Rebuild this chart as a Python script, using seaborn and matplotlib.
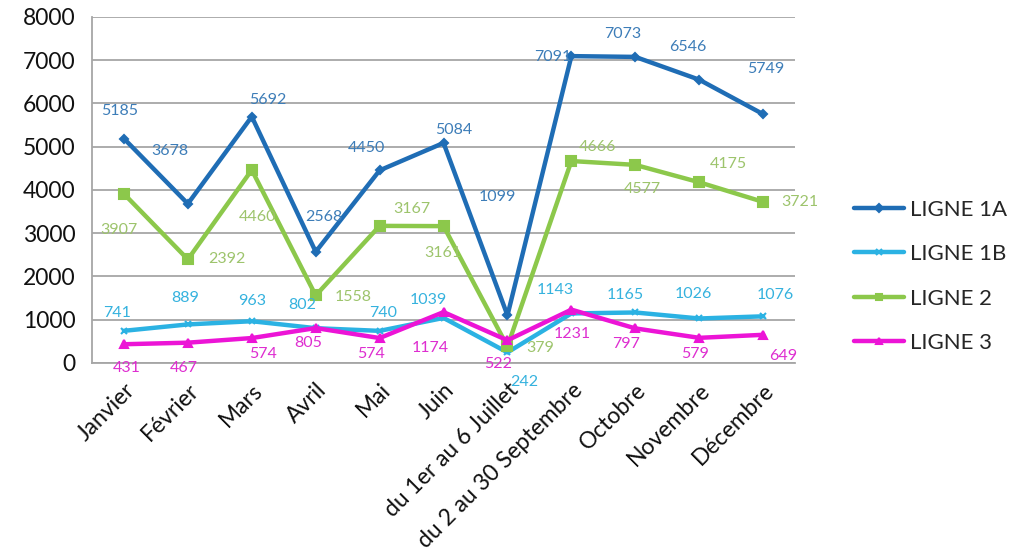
import numpy as np
import pandas as pd
import matplotlib.pyplot as plt
import seaborn as sns
from matplotlib.ticker import FixedLocator

# Data
mois = ["Janvier", "Février", "Mars", "Avril", "Mai", "Juin",
        "du 1er au 6 Juillet", "du 2 au 30 Septembre",
        "Octobre", "Novembre", "Décembre"]
ligne_1a = [5185, 3678, 5692, 2568, 4450, 5084, 1099, 7091, 7073, 6546, 5749]
ligne_1b = [741, 889, 963, 802, 740, 1039, 242, 1143, 1165, 1026, 1076]
ligne_2 = [3907, 2392, 4460, 1558, 3167, 3161, 379, 4666, 4577, 4175, 3721]
ligne_3 = [431, 467, 574, 805, 574, 1174, 522, 1231, 797, 579, 649]
noms = ["LIGNE 1A", "LIGNE 1B", "LIGNE 2", "LIGNE 3"]

# Styles
couleurs = {"LIGNE 1A": "#1F6DB5", "LIGNE 1B": "#2BB2E3",
            "LIGNE 2": "#8CC84B", "LIGNE 3": "#EC14D6"}
couleurs_txt = {"LIGNE 1A": "#3D7DB8", "LIGNE 1B": "#35B2DE",
                "LIGNE 2": "#9DC46C", "LIGNE 3": "#DE2ED0"}
marqueurs = {"LIGNE 1A": "D", "LIGNE 1B": "x", "LIGNE 2": "s", "LIGNE 3": "^"}
tailles = {"LIGNE 1A": 4, "LIGNE 1B": 5, "LIGNE 2": 6.5, "LIGNE 3": 6}

# label offsets (pixels) mimicking Excel's label placement
decalages = {
    "LIGNE 1A": [(-4, 28), (-18, 53), (16, 17), (8, 35), (-13, 22), (10, 13),
                 (-10, 118), (-19, -1), (-13, 23), (-11, 33), (3, 45)],
    "LIGNE 1B": [(-7, 18), (-3, 26), (0, 20), (-13, 23), (3, 18), (-15, 18),
                 (17, -30), (-16, 23), (-10, 17), (-6, 24), (12, 21)],
    "LIGNE 2": [(-5, -36), (39, 0), (6, -47), (37, -2), (32, 17), (-1, -27),
                (33, -2), (26, 14), (7, -24), (29, 18), (37, 0)],
    "LIGNE 3": [(3, -24), (-4, -25), (11, -16), (-8, -15), (-9, -16), (-13, -36),
                (-9, -24), (1, -24), (-9, -16), (-4, -16), (20, -21)],
}

df = pd.DataFrame({
    "Mois": mois * 4,
    "Valeur": ligne_1a + ligne_1b + ligne_2 + ligne_3,
    "Ligne": np.repeat(noms, len(mois)),
})

sns.set_style("white")
plt.rcParams["font.family"] = ["Lato", "DejaVu Sans"]

fig = plt.figure(figsize=(10.22, 5.6), dpi=100)
ax = fig.add_axes([0.090, 0.352, 0.688, 0.618])

for nom in noms:
    sous = df[df["Ligne"] == nom]
    sns.lineplot(data=sous, x="Mois", y="Valeur", ax=ax, sort=False,
                 color=couleurs[nom], linewidth=3.2, marker=marqueurs[nom],
                 markersize=tailles[nom], markeredgewidth=1.5,
                 markeredgecolor=couleurs[nom], label=nom)
    for i, v in enumerate(sous["Valeur"]):
        dx, dy = decalages[nom][i]
        ax.annotate(str(v), (i, v), xytext=(dx, dy), textcoords="offset pixels",
                    ha="center", va="center", fontsize=11.5,
                    color=couleurs_txt[nom])

ax.set_ylim(0, 8000)
ax.set_xlim(-0.5, len(mois) - 0.5)
ax.set_yticks(range(0, 8001, 1000))
ax.yaxis.grid(True, color="#A6A6A6", linewidth=1.3)
ax.set_axisbelow(True)
ax.set_xlabel("")
ax.set_ylabel("")

for s in ["top", "right"]:
    ax.spines[s].set_visible(False)
for s in ["left", "bottom"]:
    ax.spines[s].set_color("#A6A6A6")
    ax.spines[s].set_linewidth(1.3)

ax.tick_params(axis="y", labelsize=16.5, length=5, color="#A6A6A6", width=1.3,
               pad=7, labelcolor="#111111")
ax.set_xticks(range(len(mois)))
ax.set_xticklabels(mois, rotation=45, ha="right", rotation_mode="anchor",
                   fontsize=16.5, color="#111111")
ax.tick_params(axis="x", which="major", length=0, pad=12)
ax.xaxis.set_minor_locator(FixedLocator(np.arange(-0.5, len(mois), 1.0)))
ax.tick_params(axis="x", which="minor", length=7, color="#A6A6A6", width=1.3,
               direction="out")

leg = ax.legend(loc="center left", bbox_to_anchor=(1.055, 0.25), frameon=False,
                fontsize=16, handlelength=2.25, labelspacing=1.1,
                handletextpad=0.27)
for h in leg.legend_handles:
    h.set_linewidth(3.2)
    h.set_markersize(4)

fig.savefig("out.png", dpi=100)
